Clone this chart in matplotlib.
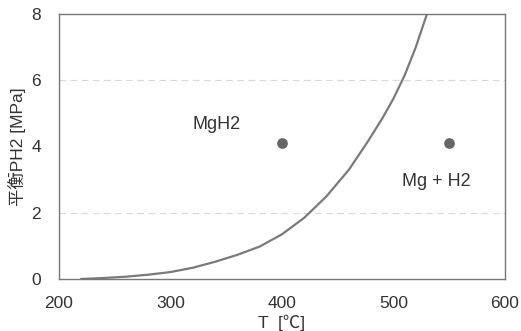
import matplotlib
matplotlib.use("Agg")
import matplotlib.pyplot as plt

plt.rcParams['font.family'] = ['Liberation Sans', 'Noto Sans CJK JP', 'DejaVu Sans']

# Courbe d'équilibre
temp = [220, 240, 260, 280, 300, 320, 340, 360, 380, 400, 420, 440, 460, 476, 490, 500, 510, 520, 530]
pression = [0.0, 0.03, 0.07, 0.13, 0.21, 0.34, 0.52, 0.73, 0.98, 1.35, 1.85, 2.5, 3.3, 4.1, 4.85, 5.45, 6.15, 7.0, 8.0]

# Points et étiquettes de phase
pts_t = [400, 550]
pts_p = [4.1, 4.1]
phases = ["MgH2", "Mg + H2"]
phase_t = [320, 508]
phase_p = [4.65, 2.95]

xticks = [200, 300, 400, 500, 600]
yticks = [0, 2, 4, 6, 8]

fig = plt.figure(figsize=(5.21, 3.31), dpi=100)
ax = fig.add_axes([59/521, 52/331, 446/521, 265/331])

for y in [2, 6]:
    ax.axhline(y, color='#d8d8d8', lw=0.8, ls=(0, (6, 4)), zorder=0)

ax.plot(temp, pression, color='#7a7a7a', lw=1.6)
ax.scatter(pts_t, pts_p, s=45, color='#666666', zorder=3)
for txt, t, p in zip(phases, phase_t, phase_p):
    ax.text(t, p, txt, fontsize=13, color='#333333', va='center', ha='left')

ax.set_xlim(200, 600)
ax.set_ylim(0, 8)
ax.set_xticks(xticks)
ax.set_yticks(yticks)
ax.tick_params(length=0, labelsize=12.5, colors='#333333')
ax.tick_params(axis='x', pad=12)
ax.tick_params(axis='y', pad=13)
for s in ax.spines.values():
    s.set_color('#777777')
    s.set_linewidth(1.0)

ax.set_xlabel("T  [℃]", fontsize=12.5, color='#333333', labelpad=3)
ax.set_ylabel("平衡PH2 [MPa]", fontsize=12.5, color='#333333', labelpad=4)

fig.savefig("out.png", dpi=100)
